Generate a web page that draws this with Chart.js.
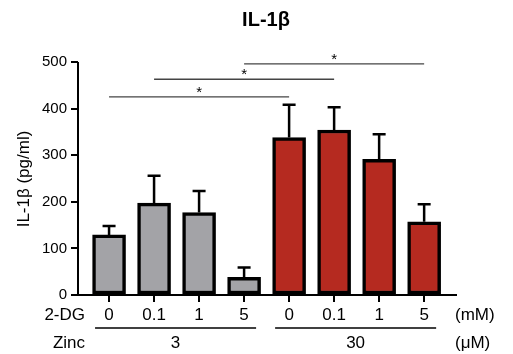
<!DOCTYPE html>
<html>
<head>
<meta charset="utf-8">
<script src="https://cdn.jsdelivr.net/npm/chart.js@4"></script>
<style>
  body { margin: 0; background: #fff; }
  canvas { display: block; }
</style>
</head>
<body>
<canvas id="chart" width="513" height="354"></canvas>
<script>
// values
const DG_LABELS = ['0', '0.1', '1', '5', '0', '0.1', '1', '5'];
const ZINC_GROUPS = ['3', '30'];
const MEANS = [129, 197, 177, 38, 338, 354, 291, 157];
const SEM = [19, 59, 46, 21, 70, 49, 54, 38];
const Y_TICKS = [0, 100, 200, 300, 400, 500];
// [from bar, to bar, height in pg/ml]
const COMPARISONS = [[0, 4, 425], [1, 5, 463], [3, 7, 496]];

const GREY = '#a3a3a7';
const RED = '#b52a20';
const FONT = "'Liberation Sans', Arial, sans-serif";

const barColors = MEANS.map((v, i) => i < 4 ? GREY : RED);

const overlay = {
    id: 'overlay',
    afterDatasetsDraw(chart) {
        const ctx = chart.ctx;
        const xs = chart.scales.x, ys = chart.scales.y;
        ctx.save();
        // error bars (upper only)
        ctx.strokeStyle = '#000';
        ctx.lineWidth = 2.5;
        MEANS.forEach((m, i) => {
            const x = xs.getPixelForValue(i);
            const y1 = ys.getPixelForValue(m);
            const y2 = ys.getPixelForValue(m + SEM[i]);
            ctx.beginPath();
            ctx.moveTo(x, y1);
            ctx.lineTo(x, y2);
            ctx.moveTo(x - 6.5, y2);
            ctx.lineTo(x + 6.5, y2);
            ctx.stroke();
        });
        // significance lines
        ctx.strokeStyle = '#444';
        ctx.lineWidth = 1.3;
        ctx.fillStyle = '#000';
        ctx.font = '15px ' + FONT;
        ctx.textAlign = 'center';
        ctx.textBaseline = 'middle';
        COMPARISONS.forEach(([a, b, h]) => {
            const xa = xs.getPixelForValue(a), xb = xs.getPixelForValue(b);
            const y = ys.getPixelForValue(h);
            ctx.beginPath();
            ctx.moveTo(xa, y);
            ctx.lineTo(xb, y);
            ctx.stroke();
            ctx.fillText('*', (xa + xb) / 2, y - 4);
        });
        ctx.restore();
    },
    afterDraw(chart) {
        const ctx = chart.ctx;
        const xs = chart.scales.x;
        const a = chart.chartArea;
        ctx.save();

        // axis lines
        ctx.strokeStyle = '#000';
        ctx.lineWidth = 2;
        ctx.beginPath();
        ctx.moveTo(a.left, a.top);
        ctx.lineTo(a.left, a.bottom);
        ctx.moveTo(a.left - 1, a.bottom);
        ctx.lineTo(a.right, a.bottom);
        ctx.stroke();

        ctx.fillStyle = '#000';
        ctx.textBaseline = 'middle';

        // title
        ctx.font = 'bold 20px ' + FONT;
        ctx.textAlign = 'center';
        ctx.fillText('IL-1β', 266, 20);

        // y axis title
        ctx.save();
        ctx.translate(24, 179);
        ctx.rotate(-Math.PI / 2);
        ctx.font = '17px ' + FONT;
        ctx.fillText('IL-1β (pg/ml)', 0, 0);
        ctx.restore();

        // 2-DG row
        ctx.font = '17px ' + FONT;
        DG_LABELS.forEach((t, i) => ctx.fillText(t, xs.getPixelForValue(i), 315));
        ctx.textAlign = 'right';
        ctx.fillText('2-DG', 85, 315);
        ctx.fillText('Zinc', 85, 343);
        ctx.textAlign = 'left';
        ctx.fillText('(mM)', 455, 315);
        ctx.fillText('(μM)', 455, 343);

        // zinc groups
        ctx.textAlign = 'center';
        ctx.strokeStyle = '#000';
        ctx.lineWidth = 1.5;
        ZINC_GROUPS.forEach((g, k) => {
            const x0 = xs.getPixelForValue(k * 4) - 14;
            const x1 = xs.getPixelForValue(k * 4 + 3) + 12;
            ctx.beginPath();
            ctx.moveTo(x0, 328);
            ctx.lineTo(x1, 328);
            ctx.stroke();
            ctx.fillText(g, (x0 + x1) / 2, 343);
        });
        ctx.restore();
    }
};

new Chart(document.getElementById('chart'), {
    type: 'bar',
    data: {
        datasets: [{
            data: MEANS.map((v, i) => ({ x: i, y: v })),
            backgroundColor: barColors,
            borderColor: '#000',
            borderWidth: 3.5,
            borderSkipped: false,
            barThickness: 33
        }]
    },
    options: {
        responsive: false,
        animation: false,
        layout: { padding: { top: 62, right: 56, bottom: 0, left: 0 } },
        plugins: {
            legend: { display: false },
            tooltip: { enabled: false }
        },
        scales: {
            x: {
                type: 'linear',
                offset: false,
                min: -0.69,
                max: 7.73,
                afterBuildTicks: s => { s.ticks = DG_LABELS.map((t, i) => ({ value: i })); },
                afterFit: s => { s.height = 59; },
                ticks: { display: false },
                grid: {
                    offset: false,
                    drawOnChartArea: false,
                    drawTicks: true,
                    tickLength: 7,
                    color: '#000',
                    lineWidth: 2
                },
                border: { display: false }
            },
            y: {
                min: 0,
                max: 500,
                afterBuildTicks: s => { s.ticks = Y_TICKS.map(v => ({ value: v })); },
                afterFit: s => { s.width = 78; },
                ticks: {
                    color: '#000',
                    padding: 4,
                    font: { size: 15, family: FONT }
                },
                grid: {
                    drawOnChartArea: false,
                    drawTicks: true,
                    tickLength: 7,
                    color: '#000',
                    lineWidth: 2
                },
                border: { display: false }
            }
        }
    },
    plugins: [overlay]
});
</script>
</body>
</html>
